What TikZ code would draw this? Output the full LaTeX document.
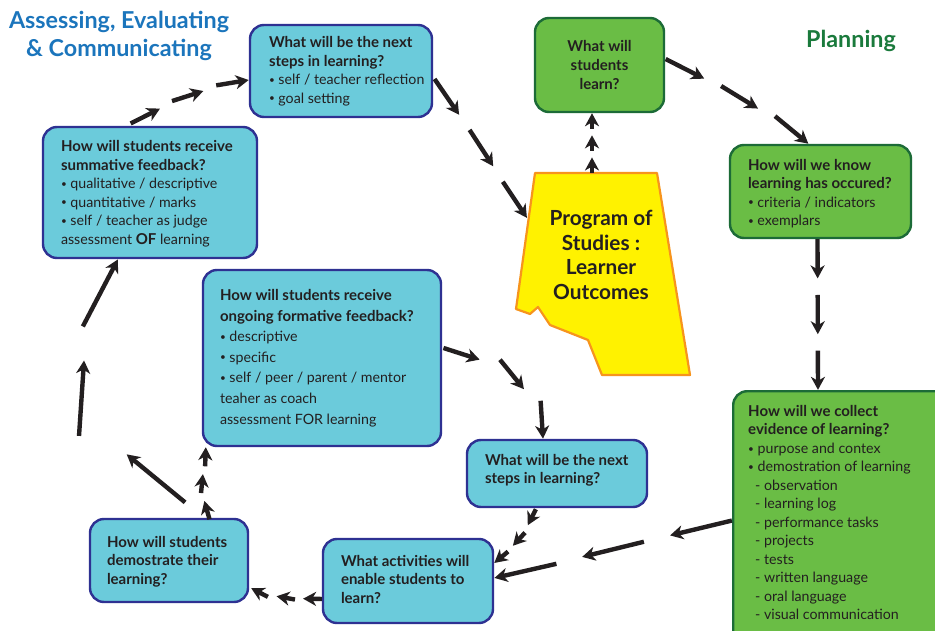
\documentclass[tikz,border=0pt]{standalone}
\usepackage{fontspec}
\setmainfont{Lato}
\usetikzlibrary{arrows.meta,decorations.markings}
\definecolor{boxblue}{HTML}{6BCBDB}
\definecolor{bordblue}{HTML}{2E3192}
\definecolor{boxgreen}{HTML}{6ABD45}
\definecolor{bordgreen}{HTML}{1C6B37}
\definecolor{yel}{HTML}{FFF200}
\definecolor{orng}{HTML}{F7941D}
\definecolor{ink}{HTML}{231F20}
\definecolor{titleblue}{HTML}{1B75BC}
\definecolor{titlegreen}{HTML}{1A7A3C}
\newcommand\segarrow[1]{\pgfmathsetmacro\seglen{#1*\pgfdecoratedpathlength}\draw[seg] (-\seglen pt,0pt) -- (0pt,0pt);}
\newcommand\hd[1]{{\fontsize{15}{18.5}\selectfont\bfseries #1}}
\newcommand\bul{\raisebox{1.3pt}{\fontsize{10}{10}\selectfont•}}
\tikzset{
  seg/.style={draw=ink, line width=4.4pt, -{Stealth[length=13pt,width=14pt,inset=4pt]}},
  chainIII/.style={postaction={decorate}, decoration={markings,
     mark=at position 0.26 with {\segarrow{0.26}},
     mark=at position 0.63 with {\segarrow{0.26}},
     mark=at position 0.999 with {\segarrow{0.26}}}},
  boxbase/.style={line width=2.4pt, rounded corners=14pt, inner sep=0pt},
  bluebox/.style={boxbase, draw=bordblue, fill=boxblue},
  greenbox/.style={boxbase, draw=bordgreen, fill=boxgreen},
  txt/.style={text=ink, align=left, inner sep=0pt, anchor=west, font=\fontsize{14.2}{18.5}\selectfont},
  boldtxt/.style={txt, font=\fontsize{15}{18.5}\selectfont\bfseries},
  title/.style={align=center, inner sep=0pt, font=\fontsize{23.3}{28}\selectfont\bfseries},
}
\begin{document}
\begin{tikzpicture}[x=1pt,y=-1pt]
\useasboundingbox (0,0) rectangle (935,631);
\clip (0,0) rectangle (935,631);
\fill[white] (0,0) rectangle (935,631);
% titles
\node[title, text=titleblue] (ttl1) at (119,36) {Assessing, Evaluating\\\& Communicating};
\node[title, text=titlegreen] (ttl2) at (851,41) {Planning};
% boxes
\node[bluebox, minimum width=182pt, minimum height=92pt] (nextA) at (341,71) {};
\node[txt] (nextAt) at ([xshift=20pt]nextA.west) {\hd{What will be the next}\\\hd{steps in learning?}\\\bul\ self / teacher reflection\\\bul\ goal setting};
\node[greenbox, minimum width=129pt, minimum height=94pt] (learn) at (599.5,65) {};
\node[boldtxt, align=center, anchor=center, font=\fontsize{15}{19}\selectfont\bfseries] (learnt) at (learn.center) {What will\\students\\learn?};
\node[bluebox, minimum width=214pt, minimum height=131pt] (summ) at (150,192.5) {};
\node[txt] (summt) at ([xshift=19pt,yshift=-1pt]summ.west) {\hd{How will students receive}\\\hd{summative feedback?}\\\bul\ qualitative / descriptive\\\bul\ quantitative / marks\\\bul\ self / teacher as judge\\assessment \hd{OF} learning};
\node[greenbox, minimum width=181pt, minimum height=93pt] (know) at (820.5,191.5) {};
\node[txt] (knowt) at ([xshift=19pt,yshift=-2pt]know.west) {\hd{How will we know}\\\hd{learning has occured?}\\\bul\ criteria / indicators\\\bul\ exemplars};
\node[bluebox, minimum width=238pt, minimum height=176pt] (form) at (322,358) {};
\node[txt, font=\fontsize{14.2}{20.6}\selectfont] (formt) at ([xshift=18pt]form.west) {\hd{How will students receive}\\\hd{ongoing formative feedback?}\\\bul\ descriptive\\\bul\ specific\\\bul\ self / peer / parent / mentor\\teaher as coach\\assessment FOR learning};
\node[bluebox, minimum width=180pt, minimum height=67pt] (nextB) at (557,473.5) {};
\node[boldtxt] (nextBt) at ([xshift=19pt,yshift=3pt]nextB.west) {What will be the next\\steps in learning?};
\node[greenbox, minimum width=240pt, minimum height=262pt, anchor=north west] (collect) at (732,390) {};
\node[txt, anchor=north west] (collectt) at (748,405) {\hd{How will we collect}\\\hd{evidence of learning?}\\\bul\ purpose and contex\\\bul\ demostration of learning\\\hspace*{7pt}- observation\\\hspace*{7pt}- learning log\\\hspace*{7pt}- performance tasks\\\hspace*{7pt}- projects\\\hspace*{7pt}- tests\\\hspace*{7pt}- written language\\\hspace*{7pt}- oral language\\\hspace*{7pt}- visual communication};
\node[bluebox, minimum width=158pt, minimum height=83pt] (demo) at (169,560.5) {};
\node[boldtxt] (demot) at ([xshift=18pt,yshift=-1pt]demo.west) {How will students\\demostrate their\\learning?};
\node[bluebox, minimum width=170pt, minimum height=84pt] (act) at (408,581) {};
\node[boldtxt] (actt) at ([xshift=19pt,yshift=2pt]act.west) {What activities will\\enable students to\\learn?};
% program of studies shape
\draw[fill=yel, draw=orng, line width=2.2pt, line join=round] (535,173) -- (657,173) -- (690,375) -- (602,375) -- (588,340) -- (550,325) -- (538,307) -- (530,314) -- (516,309) -- cycle;
\node[align=center, text=ink, inner sep=0pt, font=\fontsize{20.8}{24.5}\selectfont\bfseries] (pos) at (601,255) {Program of\\Studies :\\Learner\\Outcomes};
\coordinate (yleft) at (527,218);
\coordinate (ytop) at (592,173);
\coordinate (fork) at (192,492);
% connectors
\path[chainIII] ([xshift=-18pt]summ.north) .. controls (155,108) and (200,88) .. ([yshift=-9pt]nextA.west);
\path[chainIII] ([yshift=-9pt]nextA.east) .. controls (455,105) and (495,170) .. (yleft);
\path[chainIII] (ytop) -- ([xshift=-7.5pt]learn.south);
\path[chainIII] ([yshift=5pt]learn.east) .. controls (710,80) and (770,112) .. ([xshift=-12pt]know.north);
\path[chainIII] ([xshift=-3pt]know.south) -- ([xshift=86pt]collect.north west);
\path[chainIII] ([yshift=-131pt]collect.north west) .. controls (660,537) and (560,563) .. ([yshift=3pt]act.east);
\path[chainIII] ([xshift=-24pt]nextB.south) .. controls (531,530) and (510,550) .. ([yshift=18pt]act.east);
\path[chainIII] ([yshift=-17pt]act.west) .. controls (300,600) and (270,598) .. ([xshift=2pt,yshift=15pt]demo.south east);
\path[chainIII] ([xshift=44pt]demo.north) .. controls (195,495) and (205,470) .. ([xshift=4pt]form.south west);
\path[chainIII] (fork) .. controls (70,440) and (60,370) .. ([xshift=-32pt]summ.south);
\path[chainIII] ([yshift=4pt]form.east) .. controls (500,354) and (540,390) .. ([xshift=-14pt]nextB.north);
\end{tikzpicture}
\end{document}
